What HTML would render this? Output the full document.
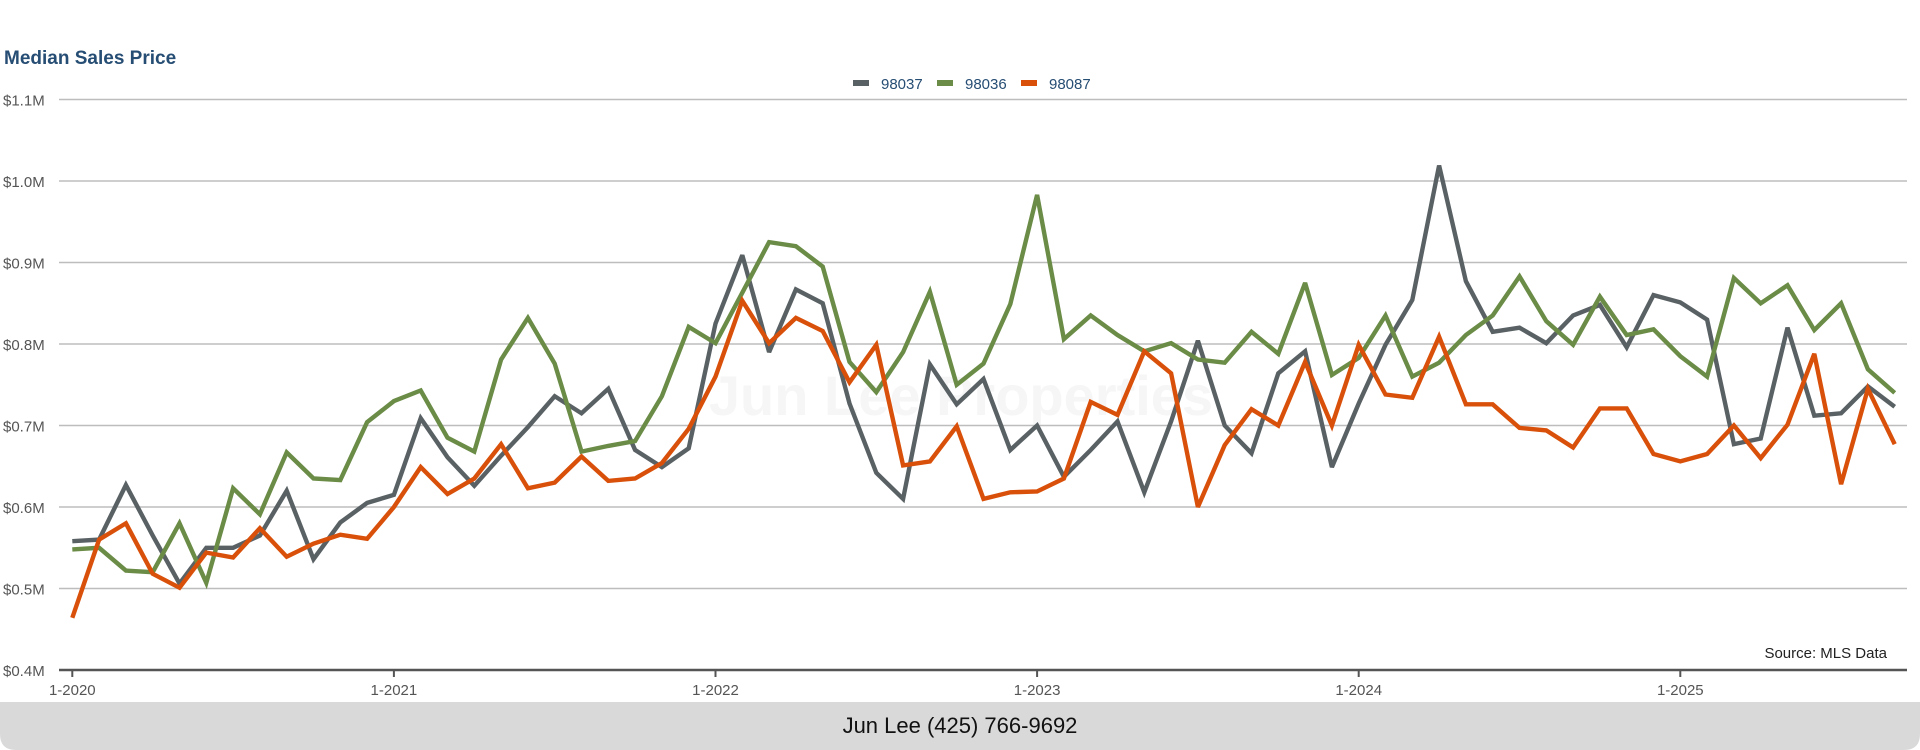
<!DOCTYPE html>
<html><head><meta charset="utf-8"><style>
html,body{margin:0;padding:0;background:#fff;width:1920px;height:750px;overflow:hidden;font-family:"Liberation Sans",sans-serif}
</style></head><body>
<svg id="chart" width="1920" height="750" viewBox="0 0 1920 750" xmlns="http://www.w3.org/2000/svg">
<text x="4" y="64" font-size="19" font-weight="bold" fill="#264d73" font-family="Liberation Sans, sans-serif">Median Sales Price</text>
<text x="961" y="415" font-size="56" font-weight="bold" fill="#f6f6f6" text-anchor="middle" font-family="Liberation Sans, sans-serif">Jun Lee Properties</text>
<g id="grid"></g><g id="series"></g><g id="axes"></g>
<g font-size="15" font-family="Liberation Sans, sans-serif" fill="#264d73">
<g><rect x="853" y="80" width="16" height="6" fill="#596164"/><text x="881" y="89">98037</text></g>
<g><rect x="937" y="80" width="16" height="6" fill="#6a8c46"/><text x="965" y="89">98036</text></g>
<g><rect x="1021" y="80" width="16" height="6" fill="#d9500a"/><text x="1049" y="89">98087</text></g>
</g>
<text x="1887" y="658" font-size="15" fill="#222" text-anchor="end" font-family="Liberation Sans, sans-serif">Source: MLS Data</text>
<path d="M0 702 H1920 V734 Q1920 750 1904 750 H16 Q0 750 0 734 Z" fill="#d9d9d9"/>
<text x="960" y="733" font-size="22" fill="#111" text-anchor="middle" font-family="Liberation Sans, sans-serif">Jun Lee (425) 766-9692</text>
</svg>
<script>
const yTicks=[0.4,0.5,0.6,0.7,0.8,0.9,1.0,1.1];
const yTickLabels=["$0.4M","$0.5M","$0.6M","$0.7M","$0.8M","$0.9M","$1.0M","$1.1M"];
const xTickMonths=[0,12,24,36,48,60];
const xTickLabels=["1-2020","1-2021","1-2022","1-2023","1-2024","1-2025"];
const seriesNames=["98037","98036","98087"];
const s98037=[0.558,0.560,0.627,0.565,0.506,0.550,0.550,0.565,0.620,0.536,0.581,0.605,0.615,0.709,0.661,0.626,0.663,0.698,0.736,0.715,0.745,0.670,0.649,0.672,0.825,0.909,0.790,0.867,0.850,0.727,0.642,0.610,0.775,0.726,0.757,0.670,0.700,0.637,0.670,0.705,0.618,0.705,0.804,0.700,0.666,0.764,0.791,0.649,0.727,0.799,0.854,1.019,0.877,0.815,0.820,0.801,0.835,0.848,0.796,0.860,0.851,0.830,0.677,0.684,0.820,0.712,0.715,0.748,0.723];
const s98036=[0.548,0.550,0.522,0.520,0.580,0.507,0.623,0.591,0.667,0.635,0.633,0.704,0.730,0.743,0.685,0.668,0.781,0.832,0.776,0.668,0.675,0.681,0.736,0.821,0.801,0.863,0.925,0.920,0.895,0.778,0.741,0.790,0.864,0.750,0.776,0.849,0.983,0.806,0.835,0.811,0.791,0.801,0.781,0.777,0.815,0.788,0.875,0.762,0.783,0.835,0.760,0.777,0.811,0.835,0.883,0.828,0.799,0.858,0.811,0.818,0.785,0.760,0.881,0.850,0.872,0.817,0.850,0.769,0.740];
const s98087=[0.464,0.560,0.580,0.518,0.501,0.544,0.538,0.574,0.539,0.555,0.566,0.561,0.600,0.649,0.616,0.635,0.677,0.623,0.630,0.662,0.632,0.635,0.654,0.696,0.760,0.853,0.801,0.832,0.816,0.753,0.799,0.651,0.656,0.699,0.610,0.618,0.619,0.635,0.729,0.713,0.791,0.764,0.600,0.676,0.720,0.700,0.778,0.700,0.799,0.738,0.734,0.809,0.726,0.726,0.697,0.694,0.673,0.721,0.721,0.665,0.656,0.665,0.700,0.660,0.701,0.788,0.628,0.745,0.677];
const NS="http://www.w3.org/2000/svg";
const X0=72.3, MX=26.8, Y0=670, Y1=99.5, VMIN=0.4, VMAX=1.1, LEFT=59, RIGHT=1907;
function xs(m){return X0+m*MX;}
function ys(v){return Y0-(v-VMIN)/(VMAX-VMIN)*(Y0-Y1);}
function mk(tag,attrs,parent){const e=document.createElementNS(NS,tag);for(const k in attrs)e.setAttribute(k,attrs[k]);parent.appendChild(e);return e;}
const grid=document.getElementById('grid'),axes=document.getElementById('axes'),ser=document.getElementById('series');
yTicks.forEach((v,i)=>{
  if(i>0){const l=mk('line',{x1:LEFT,x2:RIGHT,y1:ys(v),y2:ys(v),stroke:'#bdbdbd','stroke-width':1.6},grid);
  
  }
  const t=mk('text',{x:3,y:ys(v)+6,'font-size':15,fill:'#555','font-family':'Liberation Sans, sans-serif'},axes);
  t.textContent=yTickLabels[i];
  
  
});
const ax=mk('line',{x1:LEFT,x2:RIGHT,y1:Y0,y2:Y0,stroke:'#555','stroke-width':2.5},axes);


xTickMonths.forEach((m,i)=>{
  const tk=mk('line',{x1:xs(m),x2:xs(m),y1:Y0,y2:Y0+7,stroke:'#555','stroke-width':2},axes);
  
  
  const t=mk('text',{x:xs(m),y:Y0+25,'font-size':15,fill:'#555','text-anchor':'middle','font-family':'Liberation Sans, sans-serif'},axes);
  t.textContent=xTickLabels[i];
  
  
});
const data=[s98037,s98036,s98087], colors=['#596164','#6a8c46','#d9500a'];
data.forEach((arr,i)=>{
  const p=mk('polyline',{points:arr.map((v,m)=>xs(m).toFixed(1)+','+ys(v).toFixed(1)).join(' '),fill:'none',stroke:colors[i],'stroke-width':4.4,'stroke-linejoin':'miter','stroke-miterlimit':3},ser);
  
  
});
</script>
</body></html>
